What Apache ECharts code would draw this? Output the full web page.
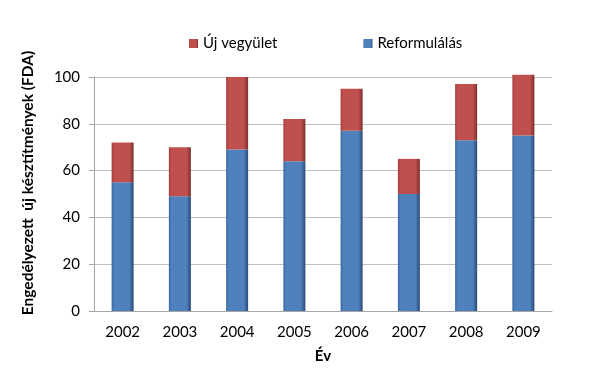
<!DOCTYPE html>
<html>
<head>
<meta charset="utf-8">
<script src="https://cdn.jsdelivr.net/npm/echarts@6/dist/echarts.min.js"></script>
<style>
html,body{margin:0;padding:0;background:#fff;}
#c{width:594px;height:387px;}
</style>
</head>
<body>
<div id="c"></div>
<script>
var years = ['2002','2003','2004','2005','2006','2007','2008','2009'];
var reformulalas = [55, 49, 69, 64, 77, 50, 73, 75];
var ujVegyulet = [17, 21, 31, 18, 18, 15, 24, 26];
var yTicks = [0, 20, 40, 60, 80, 100];

var FONT = 'Lato, "Open Sans", sans-serif';
function grad(edge, mid, dark) {
  return new echarts.graphic.LinearGradient(0, 0, 1, 0, [
    {offset: 0, color: edge},
    {offset: 0.12, color: mid},
    {offset: 0.8, color: mid},
    {offset: 1, color: dark}
  ]);
}
var chart = echarts.init(document.getElementById('c'), null, {renderer: 'canvas'});
chart.setOption({
  animation: false,
  backgroundColor: '#fff',
  legend: {
    left: 184, top: 31,
    itemWidth: 9, itemHeight: 9, itemGap: 86,
    icon: 'rect',
    data: ['Új vegyület', 'Reformulálás'],
    textStyle: {fontFamily: FONT, fontSize: 15, color: '#000'}
  },
  grid: {left: 94, right: 42, top: 77, bottom: 76},
  xAxis: {
    type: 'category',
    data: years,
    name: 'Év',
    nameLocation: 'middle',
    nameGap: 38,
    nameTextStyle: {fontFamily: FONT, fontSize: 15, fontWeight: 'bold', color: '#000'},
    axisLine: {lineStyle: {color: '#a6a6a6'}},
    axisTick: {length: 5, lineStyle: {color: '#a6a6a6'}},
    axisLabel: {fontFamily: FONT, fontSize: 15, color: '#000', margin: 14}
  },
  yAxis: {
    type: 'value',
    min: 0, max: 100, interval: 20,
    name: 'Engedélyezett  új késztítmények (FDA)',
    nameLocation: 'middle',
    nameGap: 58,
    nameTextStyle: {fontFamily: FONT, fontSize: 15.5, fontWeight: 'bold', color: '#000', padding: [0, 0, 0, 22]},
    axisLine: {show: true, lineStyle: {color: '#a6a6a6'}},
    axisTick: {show: true, length: 5, lineStyle: {color: '#a6a6a6'}},
    splitLine: {lineStyle: {color: '#bfbfbf'}},
    axisLabel: {fontFamily: FONT, fontSize: 15, color: '#000', margin: 14,
      formatter: function (v) { return yTicks.indexOf(v) >= 0 ? String(v) : ''; }}
  },
  series: [
    {
      name: 'Reformulálás', type: 'bar', stack: 'a', barWidth: 22, clip: false,
      data: reformulalas,
      itemStyle: {color: grad('#3b66a0', '#4f81bd', '#2a4a78')}
    },
    {
      name: 'Új vegyület', type: 'bar', stack: 'a', barWidth: 22, clip: false,
      data: ujVegyulet,
      itemStyle: {color: grad('#a33d3a', '#c0504d', '#7d2f2d')}
    }
  ],
  color: ['#4f81bd', '#c0504d']
});
</script>
</body>
</html>
